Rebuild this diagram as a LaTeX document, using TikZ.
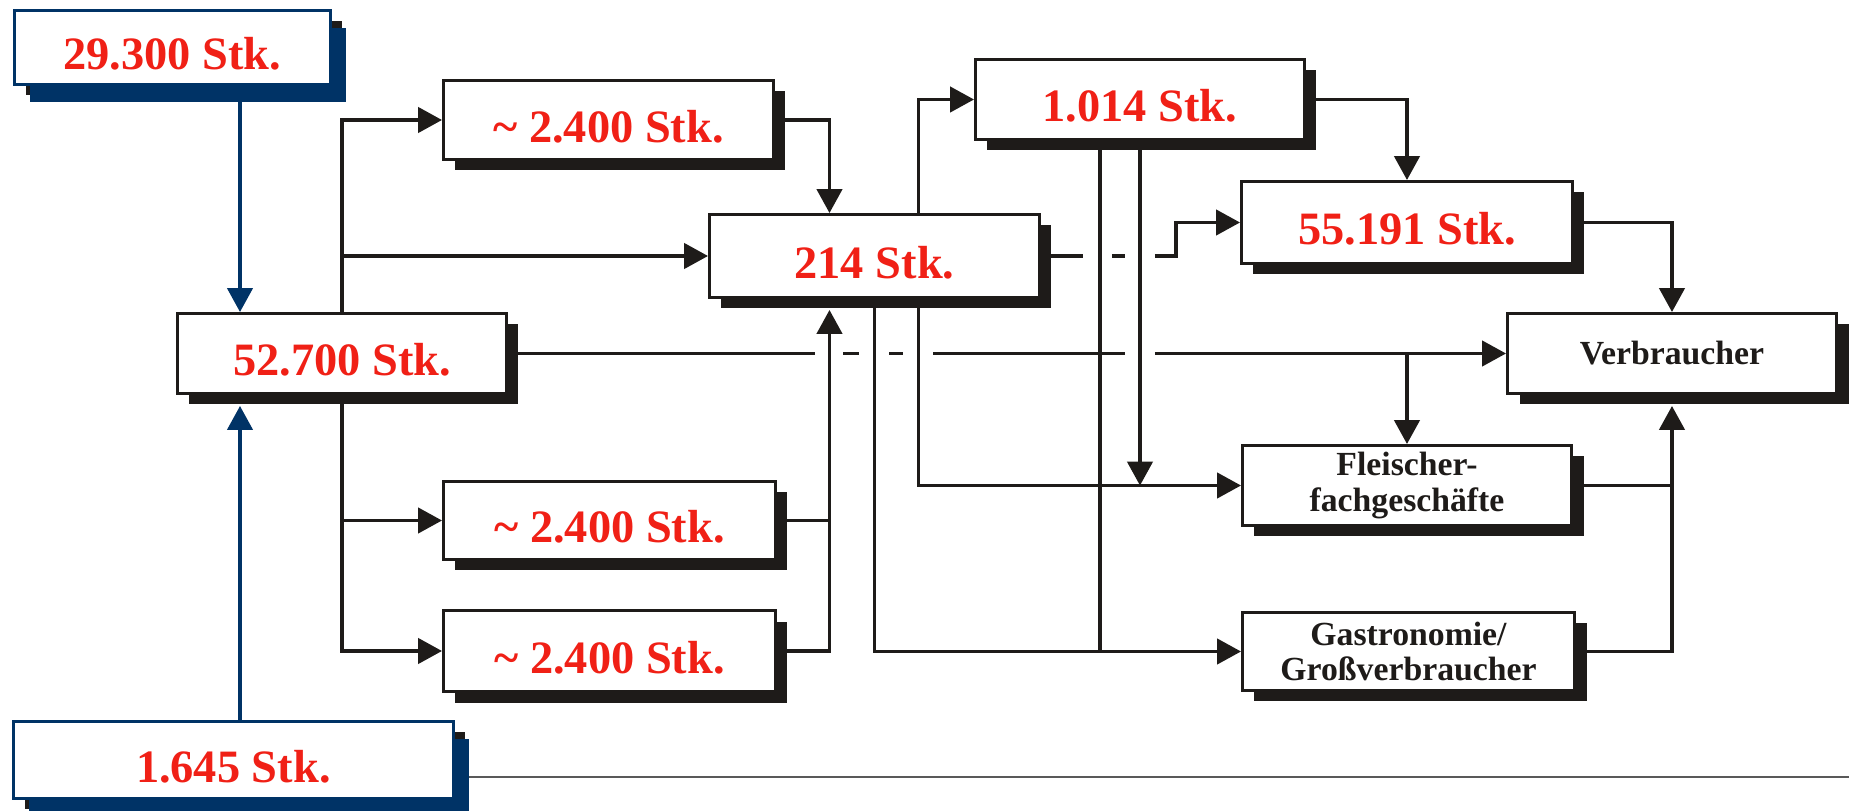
\documentclass[tikz,border=0pt]{standalone}
\usepackage{fontspec}
\setmainfont{Liberation Serif}
\usepackage{tikz}
\usetikzlibrary{arrows.meta,positioning,calc,shadows,backgrounds}
\usepackage{xcolor}
\definecolor{inkblack}{RGB}{30,27,25}
\definecolor{navy}{RGB}{0,51,102}
\definecolor{numred}{RGB}{240,32,22}

\begin{document}
\begin{tikzpicture}[
  >={Triangle[length=6.8pt, width=7.2pt]},
  box/.style={draw=inkblack, fill=white, line width=0.85pt, inner sep=0pt,
              minimum width=3.3cm, minimum height=0.8cm, anchor=north west,
              drop shadow={shadow xshift=0.12cm, shadow yshift=-0.11cm,
                           fill=inkblack, opacity=1}},
  bluebox/.style={box, draw=navy, line width=0.75pt,
              drop shadow={shadow xshift=0.16cm, shadow yshift=-0.18cm,
                           fill=navy, opacity=1}},
  numtext/.style={text=numred, text height=0.45cm, text depth=0cm,
              font=\bfseries\fontsize{13.2}{15}\selectfont},
  wordtext/.style={text=inkblack, align=center,
              font=\bfseries\fontsize{9.6}{10.2}\selectfont},
  line/.style={draw=inkblack, line width=0.95pt},
  arr/.style={line, ->},
  bluearr/.style={draw=navy, line width=0.9pt, ->},
  rule/.style={draw=black!65, line width=0.45pt}
]
  \useasboundingbox (0,0) rectangle (18.49,8.10);

  % --- Source boxes (blue) ---
  \node[bluebox, numtext, minimum width=3.16cm, minimum height=0.74cm]
       (n293) at (0.13, 8.01) {29.300 Stk.};
  \node[bluebox, numtext, minimum width=4.40cm, minimum height=0.77cm]
       (n1645) at (0.12, 0.90) {1.645 Stk.};

  % --- Stages (black) ---
  \node[box, numtext, minimum width=3.29cm] (n527) at (1.76, 4.98) {52.700 Stk.};
  \node[box, numtext, minimum height=0.79cm] (n24a) at (4.42, 7.31) {\textasciitilde\ 2.400 Stk.};
  \node[box, numtext, minimum width=3.32cm, minimum height=0.78cm]
       (n24b) at (4.42, 3.30) {\textasciitilde\ 2.400 Stk.};
  \node[box, numtext, minimum width=3.32cm, minimum height=0.81cm]
       (n24c) at (4.42, 2.01) {\textasciitilde\ 2.400 Stk.};
  \node[box, numtext, minimum height=0.83cm] (n214) at (7.08, 5.97) {214 Stk.};
  \node[box, numtext, minimum width=3.29cm] (n1014) at (9.74, 7.52) {1.014 Stk.};
  \node[box, numtext, minimum width=3.31cm, minimum height=0.82cm]
       (n55191) at (12.40, 6.30) {55.191 Stk.};

  % --- Outlets ---
  \node[box, wordtext, minimum width=3.29cm] (nverb) at (15.06, 4.98) {Verbraucher};
  \node[box, wordtext, minimum width=3.29cm] (nfleisch) at (12.41, 3.66)
       {Fleischer-\\fachgesch\"afte};
  \node[box, wordtext, minimum width=3.32cm, minimum height=0.78cm]
       (ngastro) at (12.41, 1.99) {Gastronomie/\\Gro\ss verbraucher};

  % --- Bottom rule (behind the blue box) ---
  \coordinate (ruleend) at (18.49, 0.33);
  \begin{scope}[on background layer]
    \fill[white] (0,0) rectangle (18.49,8.10);
    \draw[rule] (n1645.east |- ruleend) -- (ruleend);
  \end{scope}

  % --- Helper columns ---
  \coordinate (b1) at ([xshift=0.64cm]n527.north west);
  \coordinate (b2) at ([xshift=0.64cm, yshift=-0.11cm]n527.south west);
  \coordinate (j1) at ([xshift=-0.45cm, yshift=-0.11cm]n214.south);
  \coordinate (j2) at ([xshift=0.44cm]n214.south);
  \coordinate (k1) at ([xshift=-0.40cm]n1014.south);
  \coordinate (v1) at ([yshift=-0.11cm]nverb.south);

  % --- Blue inflows ---
  \draw[bluearr] (b1 |- n293.south) -- (b1);
  \draw[bluearr] (b2 |- n1645.north) -- (b2);

  % --- From 52.700 ---
  \draw[arr] (n527.north) |- (n24a.west);
  \draw[arr] (n527.north |- n214.west) -- (n214.west);
  \draw[arr] (n527.south) |- (n24c.west);
  \draw[arr] (n527.south |- n24b.west) -- (n24b.west);

  % --- Into 214 ---
  \draw[arr] (n24a.east) -| (j1 |- n214.north);
  \draw[line] (n24b.east) -- (n24b.east -| j1);
  \draw[arr] (n24c.east) -| (j1);

  % --- From 214 ---
  \draw[arr] (j2 |- n214.north) |- (n1014.west);
  \draw[arr] (n214.south) |- (ngastro.west);
  \draw[arr] (j2) |- (nfleisch.west);
  \draw[line] (n214.east) -- ($(k1 |- n214.east)+(-0.17,0)$)
              ($(k1 |- n214.east)+(0.12,0)$) -- ($(n1014.south |- n214.east)+(-0.15,0)$);
  \draw[arr] ($(n1014.south |- n214.east)+(0.15,0)$) -| ([xshift=-0.64cm]n55191.west)
             -- (n55191.west);

  % --- From 1.014 ---
  \draw[line] (k1) -- (k1 |- ngastro.west);
  \draw[arr] (n1014.south) -- (n1014.south |- nfleisch.west);
  \draw[arr] (n1014.east) -| (n55191.north);

  % --- Direct line 52.700 -> Verbraucher (broken at crossings) ---
  \draw[line] (n527.east) -- ($(j1 |- n527.east)+(-0.14,0)$)
              ($(j1 |- n527.east)+(0.14,0)$) -- ($(n214.south |- n527.east)+(-0.15,0)$)
              ($(n214.south |- n527.east)+(0.15,0)$) -- ($(j2 |- n527.east)+(-0.15,0)$)
              ($(j2 |- n527.east)+(0.15,0)$) -- ($(n1014.south |- n527.east)+(-0.15,0)$);
  \draw[arr] ($(n1014.south |- n527.east)+(0.15,0)$) -- (nverb.west);
  \draw[arr] (nfleisch.north |- n527.east) -- (nfleisch.north);

  % --- Into Verbraucher ---
  \draw[arr] (n55191.east) -| (nverb.north);
  \draw[line] (nfleisch.east) -- (nfleisch.east -| v1);
  \draw[arr] (ngastro.east) -| (v1);
\end{tikzpicture}
\end{document}
